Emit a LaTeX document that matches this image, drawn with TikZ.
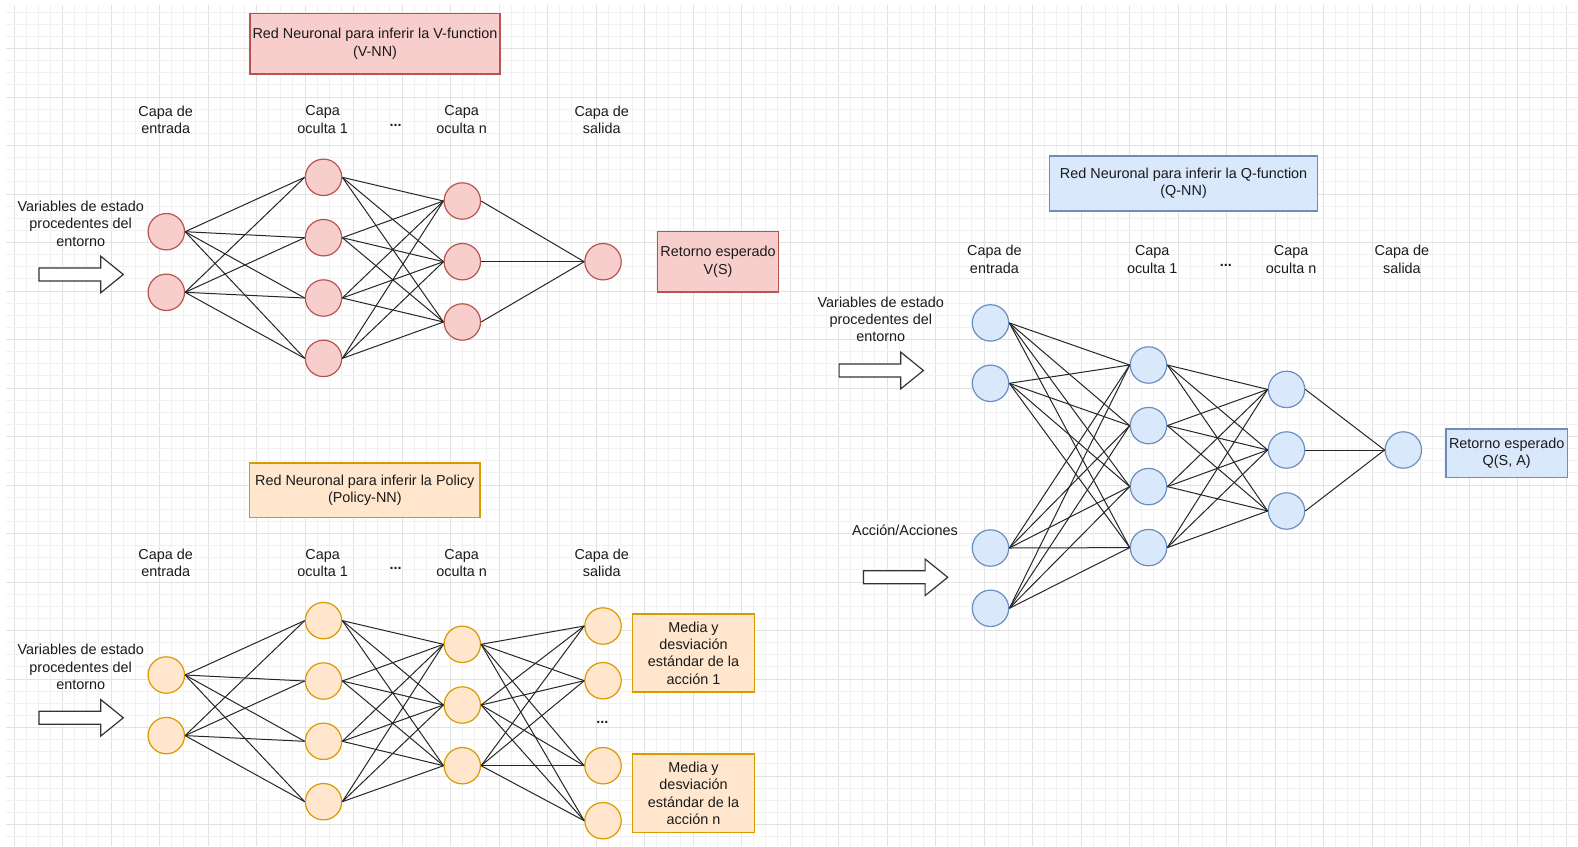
\documentclass[tikz,border=0pt]{standalone}
\usepackage{fontspec}
\setmainfont{Liberation Sans}
\newcommand\dfont{\fontsize{14.4}{17.3}\selectfont}
\definecolor{rfill}{HTML}{F8CECC}
\definecolor{rdraw}{HTML}{B85450}
\definecolor{ofill}{HTML}{FFE6CC}
\definecolor{odraw}{HTML}{D79B00}
\definecolor{bfill}{HTML}{DAE8FC}
\definecolor{bdraw}{HTML}{6C8EBF}
\definecolor{gmajor}{HTML}{E2E2E2}
\definecolor{gminor}{HTML}{F1F1F1}
\definecolor{txt}{HTML}{1A1A1A}
\tikzset{
  neuron/.style={circle, minimum size=36.4pt, inner sep=0pt, line width=1.2pt},
  rn/.style={neuron, fill=rfill, draw=rdraw},
  on/.style={neuron, fill=ofill, draw=odraw},
  bn/.style={neuron, fill=bfill, draw=bdraw},
  box/.style={rectangle, line width=1.2pt, align=center, inner sep=0pt, font=\dfont, text=txt},
  rbox/.style={box, fill=rfill, draw=rdraw},
  obox/.style={box, fill=ofill, draw=odraw},
  bbox/.style={box, fill=bfill, draw=bdraw},
  lbl/.style={align=center, inner sep=0pt, font=\dfont, text=txt},
  dots/.style={inner sep=0pt, anchor=base, font=\dfont\bfseries, text=txt},
  edge/.style={draw=black!85, line width=1pt},
  blockarr/.pic={\draw[draw=black!80, fill=white, line width=1.2pt, line join=miter]
     (0,-6.5) -- (61.7,-6.5) -- (61.7,-18.3) -- (84.3,0) -- (61.7,18.3) -- (61.7,6.5) -- (0,6.5) -- cycle;}
}
\begin{document}
\begin{tikzpicture}[x=1pt,y=-1pt]
\useasboundingbox (0,0) rectangle (1578,846);
% grid
\foreach \k in {0,...,129}{
  \pgfmathsetmacro\gx{14+\k*12.125}
  \pgfmathtruncatemacro\gm{mod(\k,4)}
  \ifnum\gm=0\relax
    \draw[gmajor, line width=1pt] (\gx,5) -- (\gx,846);
  \else
    \draw[gminor, line width=1pt] (\gx,5) -- (\gx,846);
  \fi
}
\foreach \k in {1,...,69}{
  \pgfmathsetmacro\gy{\k*12.125}
  \pgfmathtruncatemacro\gm{mod(\k,4)}
  \ifnum\gm=0\relax
    \draw[gmajor, line width=1pt] (6,\gy) -- (1578,\gy);
  \else
    \draw[gminor, line width=1pt] (6,\gy) -- (1578,\gy);
  \fi
}

% ================= V-NN =================
\node[rbox, minimum width=250pt, minimum height=60.7pt] (vtitle) at (375,43.7)
  {Red Neuronal para inferir la V-function\\(V-NN)};
\node[lbl] (vl1) at (165.7,119.5) {Capa de\\entrada};
\node[lbl] (vl2) at (322.7,119.5) {Capa\\oculta 1};
\node[dots] (vd) at (395.5,126.5) {...};
\node[lbl] (vl3) at (461.7,119.5) {Capa\\oculta n};
\node[lbl] (vl4) at (601.8,119.5) {Capa de\\salida};
\node[lbl] (vvar) at (80.7,223.7) {Variables de estado\\procedentes del\\entorno};
\pic at (39,274.5) {blockarr};

\node[rn] (vi1) at (166.3,231.7) {};
\node[rn] (vi2) at (166.3,292.3) {};
\node[rn] (vh1) at (323.5,177.3) {};
\node[rn] (vh2) at (323.5,237.7) {};
\node[rn] (vh3) at (323.5,298) {};
\node[rn] (vh4) at (323.5,358.4) {};
\node[rn] (vn1) at (462.3,201) {};
\node[rn] (vn2) at (462.3,261.7) {};
\node[rn] (vn3) at (462.3,322) {};
\node[rn] (vo) at (603,261.7) {};
\node[rbox, minimum width=121.4pt, minimum height=60.3pt] (vout) at (718,261.8)
  {Retorno esperado\\V(S)};

\foreach \a in {1,2} \foreach \b in {1,...,4} \draw[edge] (vi\a.east) -- (vh\b.west);
\foreach \a in {1,...,4} \foreach \b in {1,2,3} \draw[edge] (vh\a.east) -- (vn\b.west);
\foreach \a in {1,2,3} \draw[edge] (vn\a.east) -- (vo.west);

% ================= Policy-NN =================
\node[obox, minimum width=230.4pt, minimum height=54.3pt] (ptitle) at (364.8,490.1)
  {Red Neuronal para inferir la Policy\\(Policy-NN)};
\node[lbl] (pl1) at (165.7,562.8) {Capa de\\entrada};
\node[lbl] (pl2) at (322.7,562.8) {Capa\\oculta 1};
\node[dots] (pd) at (395.5,569.8) {...};
\node[lbl] (pl3) at (461.7,562.8) {Capa\\oculta n};
\node[lbl] (pl4) at (601.8,562.8) {Capa de\\salida};
\node[lbl] (pvar) at (80.7,667) {Variables de estado\\procedentes del\\entorno};
\pic at (39,717.8) {blockarr};

\node[on] (pi1) at (166.3,675) {};
\node[on] (pi2) at (166.3,735.6) {};
\node[on] (ph1) at (323.5,620.6) {};
\node[on] (ph2) at (323.5,681) {};
\node[on] (ph3) at (323.5,741.3) {};
\node[on] (ph4) at (323.5,801.7) {};
\node[on] (pn1) at (462.3,644.3) {};
\node[on] (pn2) at (462.3,705) {};
\node[on] (pn3) at (462.3,765.7) {};
\node[on] (po1) at (603,626) {};
\node[on] (po2) at (603,680.7) {};
\node[on] (po3) at (603,765.7) {};
\node[on] (po4) at (603,820.7) {};
\node[dots] (pod) at (602.3,723) {...};
\node[obox, minimum width=121.6pt, minimum height=78pt] (pout1) at (693.5,653)
  {Media y\\desviación\\estándar de la\\acción 1};
\node[obox, minimum width=121.6pt, minimum height=78.3pt] (pout2) at (693.5,793.2)
  {Media y\\desviación\\estándar de la\\acción n};

\foreach \a in {1,2} \foreach \b in {1,...,4} \draw[edge] (pi\a.east) -- (ph\b.west);
\foreach \a in {1,...,4} \foreach \b in {1,2,3} \draw[edge] (ph\a.east) -- (pn\b.west);
\foreach \a in {1,2,3} \foreach \b in {1,...,4} \draw[edge] (pn\a.east) -- (po\b.west);

% ================= Q-NN =================
\node[bbox, minimum width=267.7pt, minimum height=55pt] (qtitle) at (1183.6,183.5)
  {Red Neuronal para inferir la Q-function\\(Q-NN)};
\node[lbl] (ql1) at (994.4,259.4) {Capa de\\entrada};
\node[lbl] (ql2) at (1152.2,259.4) {Capa\\oculta 1};
\node[dots] (qd) at (1225.9,266.4) {...};
\node[lbl] (ql3) at (1291.1,259.4) {Capa\\oculta n};
\node[lbl] (ql4) at (1401.9,259.4) {Capa de\\salida};
\node[lbl] (qvar) at (880.8,319.5) {Variables de estado\\procedentes del\\entorno};
\pic at (839.1,370.5) {blockarr};
\node[lbl] (qact) at (905,530.5) {Acción/Acciones};
\pic at (863.4,577.3) {blockarr};

\node[bn] (qi1) at (990.5,322.9) {};
\node[bn] (qi2) at (990.5,383.3) {};
\node[bn] (qi3) at (990.5,548) {};
\node[bn] (qi4) at (990.5,608.3) {};
\node[bn] (qh1) at (1148.5,365) {};
\node[bn] (qh2) at (1148.5,425.6) {};
\node[bn] (qh3) at (1148.5,486.6) {};
\node[bn] (qh4) at (1148.5,547.6) {};
\node[bn] (qn1) at (1286.5,389.4) {};
\node[bn] (qn2) at (1286.5,450) {};
\node[bn] (qn3) at (1286.5,511) {};
\node[bn] (qo) at (1403.3,450) {};
\node[bbox, minimum width=121.3pt, minimum height=48.7pt] (qout) at (1506.7,453.4)
  {Retorno esperado\\Q(S, A)};

\foreach \a in {1,...,4} \foreach \b in {1,...,4} \draw[edge] (qi\a.east) -- (qh\b.west);
\foreach \a in {1,...,4} \foreach \b in {1,2,3} \draw[edge] (qh\a.east) -- (qn\b.west);
\foreach \a in {1,2,3} \draw[edge] (qn\a.east) -- (qo.west);
\end{tikzpicture}
\end{document}
